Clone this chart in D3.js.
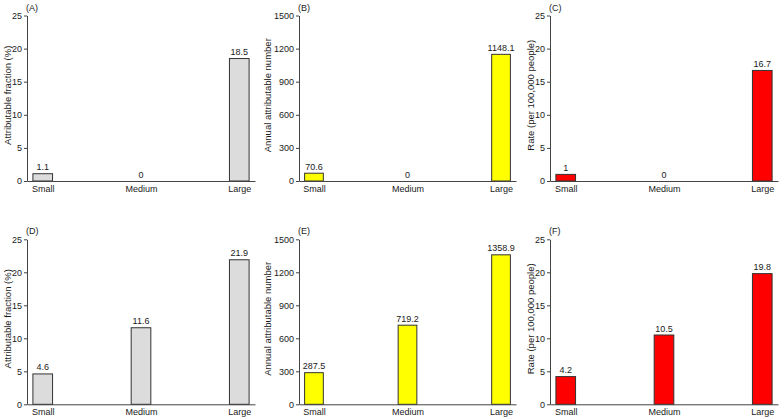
<!DOCTYPE html>
<html><head><meta charset="utf-8">
<script src="https://cdn.jsdelivr.net/npm/d3@7"></script>
<style>
body{margin:0;background:#fff;}
text{font-family:"Liberation Sans",Arial,Helvetica,sans-serif;fill:#1a1a1a;}
</style></head>
<body><svg id="c" width="781" height="420"></svg>
<script>
const categories = ["Small", "Medium", "Large"];
const panelLabels = ["(A)", "(B)", "(C)", "(D)", "(E)", "(F)"];
const yTitles = ["Attributable fraction (%)", "Annual attributable number", "Rate (per 100,000 people)"];
const valuesA = [1.1, 0, 18.5];
const valuesB = [70.6, 0, 1148.1];
const valuesC = [1, 0, 16.7];
const valuesD = [4.6, 11.6, 21.9];
const valuesE = [287.5, 719.2, 1358.9];
const valuesF = [4.2, 10.5, 19.8];
const ticksPct = [0, 5, 10, 15, 20, 25];
const ticksNum = [0, 300, 600, 900, 1200, 1500];
const ticksRate = [0, 5, 10, 15, 20, 25];
const colors = ["#dcdcdc", "#ffff00", "#ff0000"];

const svg = d3.select("#c");
const cols = [
  {x0: 27, x1: 255, title: 8},
  {x0: 299, x1: 516, title: 268},
  {x0: 550, x1: 778, title: 531}
];
const rows = [{top: 15.5, bottom: 181}, {top: 239.3, bottom: 404.3}];
const panelVals = [valuesA, valuesB, valuesC, valuesD, valuesE, valuesF];
const panelTicks = [ticksPct, ticksNum, ticksRate];
const FONT = "'Liberation Sans',Arial,sans-serif";

panelVals.forEach((vals, i) => {
  const c = cols[i % 3], r = rows[Math.floor(i / 3)];
  const ticks = panelTicks[i % 3];
  const x = d3.scalePoint().domain(categories).range([c.x0, c.x1]).padding(0.16);
  const y = d3.scaleLinear().domain([0, ticks[ticks.length - 1]]).range([r.bottom, r.top]);
  const bw = x.step() * 0.2;
  const g = svg.append("g");
  const data = vals.map((v, j) => ({cat: categories[j], v}));

  g.selectAll("rect").data(data.filter(d => d.v > 0)).join("rect")
    .attr("x", d => x(d.cat) - bw / 2)
    .attr("y", d => y(d.v))
    .attr("width", bw)
    .attr("height", d => y(0) - y(d.v))
    .attr("fill", colors[i % 3])
    .attr("stroke", "#333")
    .attr("stroke-width", 1);

  g.selectAll("text.val").data(data).join("text").attr("class", "val")
    .attr("x", d => x(d.cat))
    .attr("y", d => y(d.v) - 3.5)
    .attr("text-anchor", "middle")
    .attr("font-size", 9)
    .text(d => String(d.v));

  const ya = g.append("g").attr("transform", `translate(${c.x0},0)`)
    .call(d3.axisLeft(y).tickValues(ticks).tickFormat(d3.format("d")).tickSize(3).tickSizeOuter(0).tickPadding(2));
  ya.selectAll("text").attr("font-size", 9).style("font-family", FONT).attr("fill", "#1a1a1a");
  ya.selectAll("path,line").attr("stroke", "#444");

  const xa = g.append("g").attr("transform", `translate(0,${r.bottom})`)
    .call(d3.axisBottom(x).tickSize(0).tickSizeOuter(0).tickPadding(4.5));
  xa.selectAll("text").attr("font-size", 9).style("font-family", FONT).attr("fill", "#1a1a1a");
  xa.selectAll("path").attr("stroke", "#444");

  g.append("text")
    .attr("transform", `translate(${c.title},${(r.top + r.bottom) / 2 - 3}) rotate(-90)`)
    .attr("text-anchor", "middle")
    .attr("dy", "0.35em")
    .attr("font-size", 9.5)
    .text(yTitles[i % 3]);

  g.append("text")
    .attr("x", c.x0 - 1)
    .attr("y", r.top - 5)
    .attr("font-size", 9)
    .text(panelLabels[i]);
});
</script></body></html>
